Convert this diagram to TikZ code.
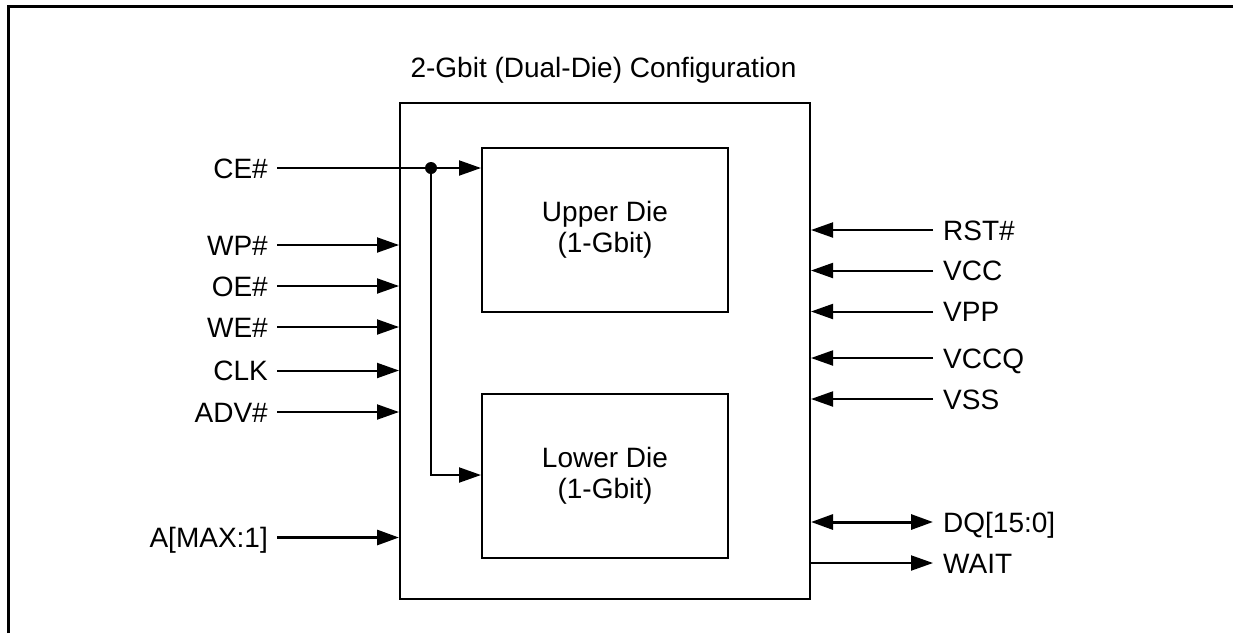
\documentclass[tikz,border=0pt]{standalone}
\usepackage{fontspec}
\setmainfont{Liberation Sans}
\usetikzlibrary{arrows.meta}
\begin{document}
\begin{tikzpicture}[x=1pt,y=-1pt,
  every node/.style={font=\fontsize{28}{31}\selectfont},
  lbl/.style={inner sep=0pt, text height=20pt, text depth=0pt},
  box/.style={draw, line width=2pt, inner sep=0pt},
  wire/.style={line width=2pt},
  bus/.style={line width=3pt},
  arr/.style={-{Triangle[length=22pt,width=15pt]}},
  darr/.style={{Triangle[length=22pt,width=15pt]}-{Triangle[length=22pt,width=15pt]}}]
\useasboundingbox (0,0) rectangle (1233,633);
% outer frame (partial)
\draw[line width=3pt] (8,633) -- (8,6) -- (1233,6);
% boxes
\node[box, minimum width=410pt, minimum height=496pt] (main) at (605,351) {};
\node[box, minimum width=246pt, minimum height=164pt, align=center] (upper) at (605,230) {Upper Die\\(1-Gbit)};
\node[box, minimum width=246pt, minimum height=164pt, align=center] (lower) at (605,476) {Lower Die\\(1-Gbit)};
\node (title) at (603.5,70) {2-Gbit (Dual-Die) Configuration};
% left labels
\node[lbl, anchor=east] (ce)  at (268,168) {CE\#};
\node[lbl, anchor=east] (wp)  at (268,245) {WP\#};
\node[lbl, anchor=east] (oe)  at (268,286) {OE\#};
\node[lbl, anchor=east] (we)  at (268,327) {WE\#};
\node[lbl, anchor=east] (clk) at (268,370.5) {CLK};
\node[lbl, anchor=east] (adv) at (268,412) {ADV\#};
\node[lbl, anchor=east] (addr) at (268,537.5) {A[MAX:1]};
% right labels
\node[lbl, anchor=west] (rst)  at (943,230) {RST\#};
\node[lbl, anchor=west] (vcc)  at (943,270.5) {VCC};
\node[lbl, anchor=west] (vpp)  at (943,311.5) {VPP};
\node[lbl, anchor=west] (vccq) at (943,358) {VCCQ};
\node[lbl, anchor=west] (vss)  at (943,399) {VSS};
\node[lbl, anchor=west] (dq)   at (943,522) {DQ[15:0]};
\node[lbl, anchor=west] (wait) at (943,563) {WAIT};
% CE# distribution
\coordinate (j) at (431,168);
\draw[wire, arr] ([xshift=9pt]ce.east) -- (upper.west |- ce);
\draw[wire, arr] (j) -- (j |- 0,475) -- (lower.west |- 0,475);
\fill (j) circle (6pt);
% left inputs
\foreach \n in {wp,oe,we,clk,adv}
  \draw[wire, arr] ([xshift=9pt]\n.east) -- (main.west |- \n);
\draw[bus, arr] ([xshift=9pt]addr.east) -- (main.west |- addr);
% right inputs
\foreach \n in {rst,vcc,vpp,vccq,vss}
  \draw[wire, arr] ([xshift=-10pt]\n.west) -- (main.east |- \n);
\draw[bus, darr] (main.east |- dq) -- ([xshift=-10pt]dq.west);
\draw[wire, arr] (main.east |- wait) -- ([xshift=-10pt]wait.west);
\end{tikzpicture}
\end{document}
